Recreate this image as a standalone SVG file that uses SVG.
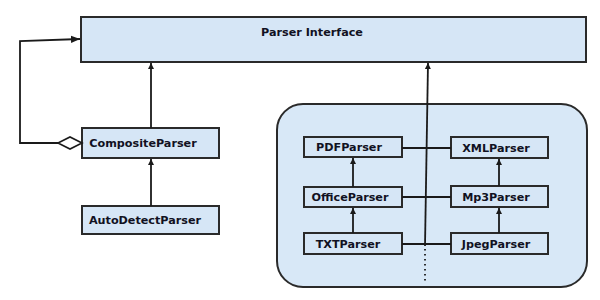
<svg xmlns="http://www.w3.org/2000/svg" width="600" height="300" viewBox="0 0 600 300">
<defs>
<style>
.box{fill:#d6e6f6;stroke:#2a2a2a;stroke-width:2}
.grp{fill:#d8e8f7;stroke:#2a2a2a;stroke-width:2}
.lbl{font-family:"DejaVu Sans",Verdana,sans-serif;font-weight:bold;font-size:11.2px;fill:#111122;text-anchor:middle}
.ln{fill:none;stroke:#1a1a1a;stroke-width:1.8}
</style>
<marker id="ah" viewBox="0 0 10 10" refX="10" refY="5" markerWidth="6" markerHeight="6" orient="auto" markerUnits="userSpaceOnUse">
<path d="M0,0 L10,5 L0,10 Z" fill="#1a1a1a"/>
</marker>
<marker id="ahs" viewBox="0 0 10 10" refX="10" refY="5" markerWidth="9" markerHeight="9" orient="auto" markerUnits="userSpaceOnUse">
<path d="M0,1 L10,5 L0,9 Z" fill="#1a1a1a"/>
</marker>
</defs>
<rect width="600" height="300" fill="#ffffff"/>
<g id="group-parsers">
<rect class="grp" x="277" y="104" width="310" height="183" rx="26" ry="26"/>
</g>
<g id="parser-interface">
<rect class="box" x="81" y="17" width="505" height="45"/>
<text class="lbl" x="312" y="36">Parser Interface</text>
</g>
<g id="composite-parser">
<rect class="box" x="82" y="128" width="137" height="30"/>
<text class="lbl" x="143" y="147">CompositeParser</text>
</g>
<g id="autodetect-parser">
<rect class="box" x="82" y="206" width="137" height="28"/>
<text class="lbl" x="145" y="224">AutoDetectParser</text>
</g>
<g id="pdf-parser">
<rect class="box" x="304" y="137" width="98" height="20"/>
<text class="lbl" x="349" y="151">PDFParser</text>
</g>
<g id="office-parser">
<rect class="box" x="304" y="187" width="98" height="20"/>
<text class="lbl" x="350" y="201">OfficeParser</text>
</g>
<g id="txt-parser">
<rect class="box" x="304" y="233" width="98" height="21"/>
<text class="lbl" x="348" y="248">TXTParser</text>
</g>
<g id="xml-parser">
<rect class="box" x="451" y="137" width="97" height="21"/>
<text class="lbl" x="496" y="152">XMLParser</text>
</g>
<g id="mp3-parser">
<rect class="box" x="451" y="186" width="97" height="21"/>
<text class="lbl" x="496" y="201">Mp3Parser</text>
</g>
<g id="jpeg-parser">
<rect class="box" x="451" y="233" width="97" height="21"/>
<text class="lbl" x="496" y="248">JpegParser</text>
</g>
<g id="connectors">
<line class="ln" x1="151" y1="128" x2="151" y2="63" marker-end="url(#ah)"/>
<line class="ln" x1="151" y1="206" x2="151" y2="159" marker-end="url(#ah)"/>
<polyline class="ln" points="58,143 20,143 20,41 80,39" marker-end="url(#ahs)"/>
<polygon points="82,143 70,137 58,143 70,149" fill="#ffffff" stroke="#1a1a1a" stroke-width="1.6"/>
<line class="ln" x1="425" y1="246" x2="428" y2="63" marker-end="url(#ah)"/>
<line class="ln" x1="425" y1="249" x2="425" y2="284" stroke-dasharray="1.5,3.5"/>
<line class="ln" x1="402" y1="148" x2="451" y2="148"/>
<line class="ln" x1="402" y1="197" x2="451" y2="197"/>
<line class="ln" x1="402" y1="244" x2="451" y2="244"/>
<line class="ln" x1="353" y1="187" x2="353" y2="158" marker-end="url(#ah)"/>
<line class="ln" x1="353" y1="233" x2="353" y2="208" marker-end="url(#ah)"/>
<line class="ln" x1="499" y1="186" x2="499" y2="159" marker-end="url(#ah)"/>
<line class="ln" x1="499" y1="233" x2="499" y2="208" marker-end="url(#ah)"/>
</g>
</svg>
